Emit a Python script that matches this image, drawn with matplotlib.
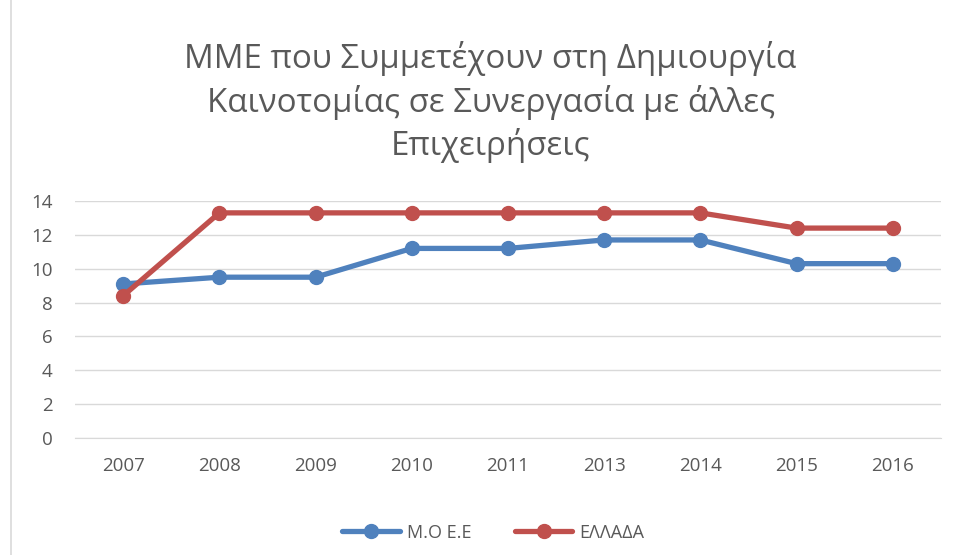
import matplotlib.pyplot as plt
from matplotlib.patches import Rectangle

years = ["2007", "2008", "2009", "2010", "2011", "2013", "2014", "2015", "2016"]
moee = [9.1, 9.5, 9.5, 11.2, 11.2, 11.7, 11.7, 10.3, 10.3]
ellada = [8.4, 13.3, 13.3, 13.3, 13.3, 13.3, 13.3, 12.4, 12.4]

plt.rcParams['font.family'] = ['Open Sans', 'DejaVu Sans']

fig = plt.figure(figsize=(9.62, 5.55), dpi=100)
ax = fig.add_axes([0.078, 0.2108, 0.900, 0.427])

x = range(len(years))
ax.plot(x, moee, color="#4f81bd", lw=3.8, marker="o", ms=10, label="Μ.Ο Ε.Ε", solid_capstyle="round")
ax.plot(x, ellada, color="#c0504d", lw=3.8, marker="o", ms=10, label="ΕΛΛΑΔΑ", solid_capstyle="round")

ax.set_xlim(-0.5, len(years) - 0.5)
ax.set_ylim(0, 14)
ax.set_yticks(range(0, 15, 2))
ax.set_xticks(list(x))
ax.set_xticklabels(years)
ax.grid(axis="y", color="#d9d9d9", lw=1)
ax.set_axisbelow(True)
for s in ["top", "right", "left"]:
    ax.spines[s].set_visible(False)
ax.spines["bottom"].set_color("#d9d9d9")
ax.tick_params(length=0, labelsize=13.5, colors="#595959")
ax.tick_params(axis="x", pad=14)
ax.tick_params(axis="y", pad=16)

fig.text(0.51, 0.816, "ΜΜΕ που Συμμετέχουν στη Δημιουργία\nΚαινοτομίας σε Συνεργασία με άλλες\nΕπιχειρήσεις",
         ha="center", va="center", fontsize=23.8, color="#595959", linespacing=1.32)

ax.legend(loc="center", bbox_to_anchor=(0.483, -0.4), ncol=2, frameon=False,
          fontsize=13, labelcolor="#595959", handlelength=3.2, handletextpad=0.4, columnspacing=2.4)

fig.add_artist(Rectangle((0.011, -0.01), 1.5, 1.5, transform=fig.transFigure,
                         fill=False, edgecolor="#d9d9d9", lw=1.2))

fig.savefig("out.png", dpi=100)
